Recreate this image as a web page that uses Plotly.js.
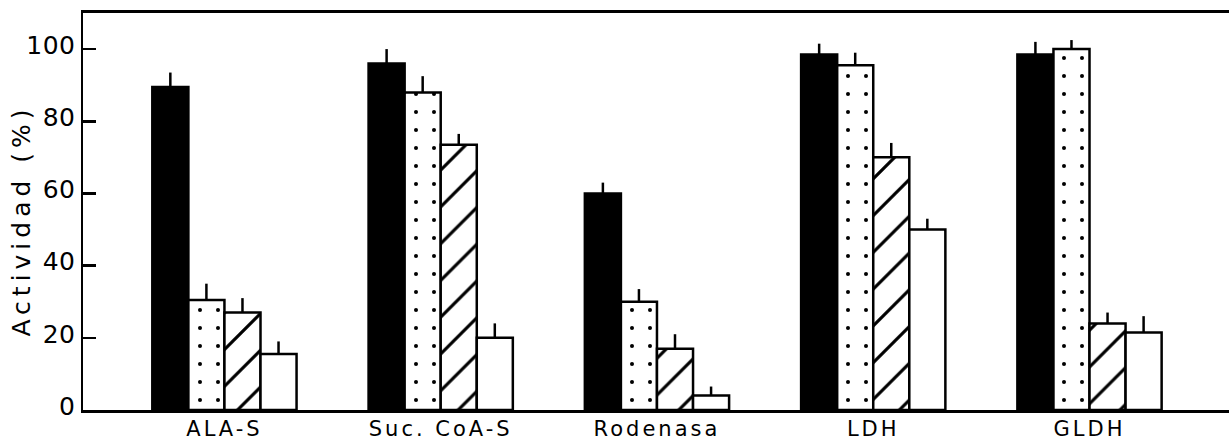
<!DOCTYPE html>
<html>
<head>
<meta charset="utf-8">
<script src="https://cdn.plot.ly/plotly-3.0.1.min.js"></script>
<style>
  html, body { margin: 0; padding: 0; background: #fff; }
  #chart { width: 1229px; height: 442px; }
  .ytitle { letter-spacing: 5px; }
  .g-ytitle { transform: translate(13px, 9px); }
  .xtick text { letter-spacing: 3px; }
  .ytick text { letter-spacing: 0.5px; }
</style>
</head>
<body>
<div id="chart"></div>
<script>
const categories = ["ALA-S", "Suc. CoA-S", "Rodenasa", "LDH", "GLDH"];

const solidValues  = [89.5, 96, 60, 98.5, 98.5];
const solidErrors  = [4, 4, 3, 3, 3.5];

const dottedValues = [30.5, 88, 30, 95.5, 100];
const dottedErrors = [4.5, 4.5, 3.5, 3.5, 2.5];

const hatchValues  = [27, 73.5, 17, 70, 24];
const hatchErrors  = [4, 3, 4, 4, 3];

const openValues   = [15.5, 20, 4, 50, 21.5];
const openErrors   = [3.5, 4, 2.5, 3, 4.5];

const yTickVals = [0, 20, 40, 60, 80, 100];
const yTickText = ["0", "20", "40", "60", "80", "100"];

function errBar(arr) {
  return {
    type: 'data', symmetric: false, array: arr,
    arrayminus: arr.map(() => 0),
    color: '#000', thickness: 2.5, width: 0
  };
}

const lineStyle = { color: '#000', width: 2.5 };

const traces = [
  {
    type: 'bar', x: categories, y: solidValues, error_y: errBar(solidErrors),
    marker: { color: '#000', line: lineStyle }
  },
  {
    type: 'bar', x: categories, y: dottedValues, error_y: errBar(dottedErrors),
    marker: {
      color: '#fff', line: lineStyle,
      pattern: { shape: '.', fgcolor: '#000', bgcolor: '#fff', fgopacity: 1, size: 18, solidity: 0.04, fillmode: 'overlay' }
    }
  },
  {
    type: 'bar', x: categories, y: hatchValues, error_y: errBar(hatchErrors),
    marker: {
      color: '#fff', line: lineStyle,
      pattern: { shape: '/', fgcolor: '#000', bgcolor: '#fff', fgopacity: 1, size: 26, solidity: 0.12, fillmode: 'overlay' }
    }
  },
  {
    type: 'bar', x: categories, y: openValues, error_y: errBar(openErrors),
    marker: { color: '#fff', line: lineStyle }
  }
];

const layout = {
  width: 1229, height: 442,
  margin: { l: 83, r: 0, t: 13, b: 32, pad: 0 },
  paper_bgcolor: '#fff', plot_bgcolor: '#fff',
  showlegend: false,
  barmode: 'group', bargap: 0.333, bargroupgap: 0,
  font: { family: 'DejaVu Sans, sans-serif', color: '#000', size: 22 },
  xaxis: {
    type: 'category',
    range: [-0.654, 4.645],
    showline: true, linecolor: '#000', linewidth: 3, mirror: true,
    showgrid: false, zeroline: false, ticks: '',
    tickfont: { size: 21, family: 'DejaVu Sans, sans-serif', color: '#000' },
    ticklabelstandoff: -2
  },
  yaxis: {
    range: [0, 110],
    tickvals: yTickVals, ticktext: yTickText,
    showline: true, linecolor: '#000', linewidth: 2.5, mirror: false,
    showgrid: false, zeroline: false,
    ticks: 'inside', ticklen: 13, tickwidth: 2.5, tickcolor: '#000',
    tickfont: { size: 25, family: 'DejaVu Sans, sans-serif', color: '#000' },
    ticklabelshift: -4,
    title: { text: 'Actividad (%)', font: { size: 25, family: 'DejaVu Sans, sans-serif', color: '#000' }, standoff: 2 }
  }
};

Plotly.newPlot('chart', traces, layout, { displayModeBar: false, staticPlot: true });
</script>
</body>
</html>
